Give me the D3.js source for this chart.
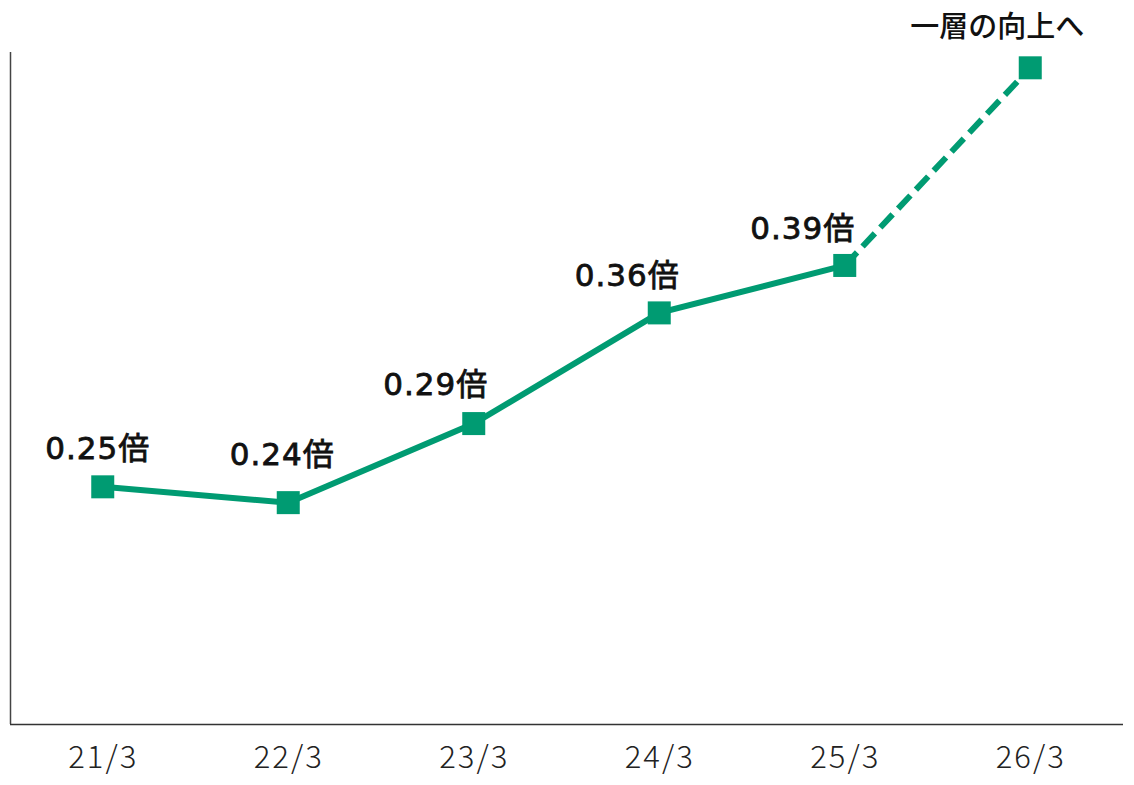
<!DOCTYPE html>
<html><head><meta charset="utf-8">
<script src="https://cdn.jsdelivr.net/npm/d3@7"></script>
<style>body{margin:0;background:#fff}svg{display:block}</style>
</head><body>
<svg id="c" width="1134" height="785"></svg>
<script>
const categories = ["21/3","22/3","23/3","24/3","25/3","26/3"];
const values = [0.25, 0.24, 0.29, 0.36, 0.39, 0.515];
const labels = ["0.25倍","0.24倍","0.29倍","0.36倍","0.39倍","一層の向上へ"];
const yDomain = [0.10, 0.525];

const labelDx = [-5, -6, -38, -32, -42, -33];
const labelDy = [-28, -38, -29, -27, -26, -31];
const green = "#009B72";

const svg = d3.select("#c");
const x = d3.scalePoint().domain(categories).range([10, 1123]).padding(0.5);
const y = d3.scaleLinear().domain(yDomain).range([724, 52]);

// axes
svg.append("line").attr("x1",10.5).attr("x2",10.5).attr("y1",y(yDomain[1])).attr("y2",724)
  .attr("stroke","#444").attr("stroke-width",1.5);
const xAxis = svg.append("g").attr("transform","translate(0,724)")
  .call(d3.axisBottom(x).tickSize(0).tickPadding(0));
xAxis.select(".domain").attr("d","M10,0.5H1123").attr("stroke","#333").attr("stroke-width",1.5);
xAxis.selectAll("text").attr("y",44).attr("dy",null)
  .attr("font-family","'Noto Sans CJK JP', 'Noto Sans', sans-serif")
  .attr("font-weight",300).attr("font-size",31).attr("fill","#222")
  .attr("letter-spacing","2px");

const pts = categories.map((c,i)=>({c, v: values[i], l: labels[i], i}));
const line = d3.line().x(d=>x(d.c)).y(d=>y(d.v));

svg.append("path").datum(pts.slice(0,5)).attr("d",line)
  .attr("fill","none").attr("stroke",green).attr("stroke-width",6);
svg.append("path").datum(pts.slice(4)).attr("d",line)
  .attr("fill","none").attr("stroke",green).attr("stroke-width",6)
  .attr("stroke-dasharray","18,8");

const s = 23;
svg.selectAll("rect.m").data(pts).join("rect").attr("class","m")
  .attr("x",d=>x(d.c)-s/2).attr("y",d=>y(d.v)-s/2)
  .attr("width",s).attr("height",s).attr("fill",green);

svg.selectAll("text.lab").data(pts).join("text").attr("class","lab")
  .attr("x",d=>x(d.c)+labelDx[d.i]).attr("y",d=>y(d.v)+labelDy[d.i])
  .attr("text-anchor","middle")
  .attr("font-family",d=>d.i===5?"'Noto Sans CJK JP', sans-serif":"'DejaVu Sans', 'Noto Sans CJK JP', sans-serif")
  .attr("font-weight",d=>d.i===5?500:"normal")
  .attr("font-size",d=>d.i===5?29:31)
  .attr("letter-spacing",d=>d.i===5?"0px":"1px")
  .attr("fill","#111")
  .attr("stroke",d=>d.i===5?null:"#111")
  .attr("stroke-width",0.8)
  .text(d=>d.l);
</script>
</body></html>
